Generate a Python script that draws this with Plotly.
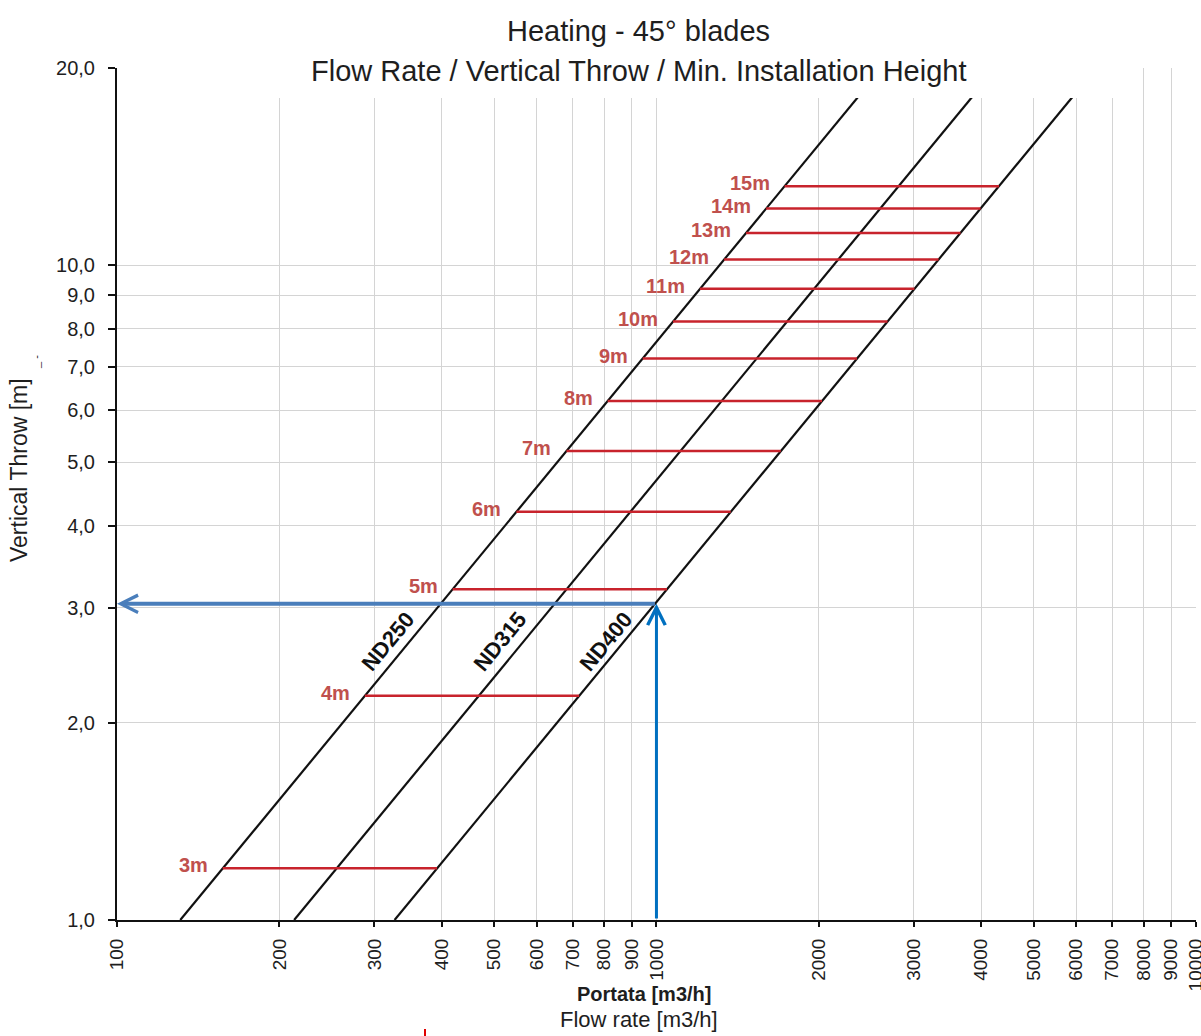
import math
import plotly.graph_objects as go

# ---------------- data ----------------
x_ticks = [100, 200, 300, 400, 500, 600, 700, 800, 900, 1000,
           2000, 3000, 4000, 5000, 6000, 7000, 8000, 9000, 10000]
x_tick_labels = ["100", "200", "300", "400", "500", "600", "700", "800", "900", "1000",
                 "2000", "3000", "4000", "5000", "6000", "7000", "8000", "9000", "10000"]
y_ticks = [1, 2, 3, 4, 5, 6, 7, 8, 9, 10, 20]
y_tick_labels = ["1,0", "2,0", "3,0", "4,0", "5,0", "6,0", "7,0", "8,0", "9,0", "10,0", "20,0"]

# diffuser lines (flow rate [m3/h] vs vertical throw [m])
nd_names = ["ND250", "ND315", "ND400"]
nd250_flow = [131, 2618]
nd250_throw = [1.0, 20.0]
nd315_flow = [213, 4260]
nd315_throw = [1.0, 20.0]
nd400_flow = [327, 6538]
nd400_throw = [1.0, 20.0]

# label positions of the ND lines
nd_label_flow = [318, 513, 807]
nd_label_throw = [2.66, 2.66, 2.66]

# min. installation height levels
height_labels = ["3m", "4m", "5m", "6m", "7m", "8m", "9m", "10m", "11m", "12m", "13m", "14m", "15m"]
height_throw = [1.2, 2.2, 3.2, 4.2, 5.2, 6.2, 7.2, 8.2, 9.2, 10.2, 11.2, 12.2, 13.2]
height_flow_start = [157, 288, 419, 550, 681, 812, 943, 1073, 1204, 1335, 1466, 1597, 1728]
height_flow_end = [392, 719, 1046, 1373, 1700, 2027, 2354, 2681, 3008, 3334, 3661, 3988, 4315]

# worked example (blue arrows)
example_flow = 1000
example_throw = 3.04

# ---------------- figure ----------------
W, H = 1201, 1036
L, R, T, B = 117, 5, 68, 116
PW, PH = W - L - R, H - T - B


def px_x(p):
    return (p - L) / PW


def px_y(p):
    return (H - B - p) / PH


AX_FONT = "Liberation Sans, Arial, sans-serif"
TXT = "#1e1e1e"
RED_LINE = "#C8232C"
RED_TEXT = "#C0504D"

fig = go.Figure()

for fx, fy in [(nd250_flow, nd250_throw), (nd315_flow, nd315_throw), (nd400_flow, nd400_throw)]:
    fig.add_trace(go.Scatter(x=fx, y=fy, mode="lines",
                             line=dict(color="#111111", width=2.2), hoverinfo="skip"))

rx, ry = [], []
for xs, xe, t in zip(height_flow_start, height_flow_end, height_throw):
    rx += [xs, xe, None]
    ry += [t, t, None]
fig.add_trace(go.Scatter(x=rx, y=ry, mode="lines",
                         line=dict(color=RED_LINE, width=2.5), hoverinfo="skip"))

annotations = []

# red height labels
for lab, xs, t in zip(height_labels, height_flow_start, height_throw):
    annotations.append(dict(x=math.log10(xs), y=math.log10(t), xref="x", yref="y",
                            text="<b>%s</b>" % lab, showarrow=False,
                            xanchor="right", yanchor="middle", xshift=-13, yshift=3,
                            font=dict(family=AX_FONT, size=20, color=RED_TEXT)))

# ND labels
for name, fx, fy in zip(nd_names, nd_label_flow, nd_label_throw):
    annotations.append(dict(x=math.log10(fx), y=math.log10(fy), xref="x", yref="y",
                            text="<b>%s</b>" % name, showarrow=False, textangle=-50.5,
                            xanchor="center", yanchor="middle",
                            font=dict(family=AX_FONT, size=22, color="#111111")))

# blue arrows
annotations.append(dict(x=math.log10(example_flow), y=math.log10(example_throw),
                        ax=math.log10(example_flow), ay=0,
                        xref="x", yref="y", axref="x", ayref="y", text="",
                        showarrow=True, arrowhead=5, arrowwidth=3, arrowsize=1.15,
                        arrowcolor="#0070C0"))
annotations.append(dict(x=2, y=math.log10(example_throw),
                        ax=math.log10(example_flow), ay=math.log10(example_throw),
                        xref="x", yref="y", axref="x", ayref="y", text="",
                        showarrow=True, arrowhead=5, arrowwidth=4, arrowsize=0.85,
                        arrowcolor="#4A7EBB"))

# titles
annotations.append(dict(x=px_x(638.5), y=px_y(31), xref="paper", yref="paper",
                        text="Heating - 45° blades", showarrow=False,
                        xanchor="center", yanchor="middle",
                        font=dict(family=AX_FONT, size=29, color=TXT)))
annotations.append(dict(x=px_x(638.5), y=px_y(70.5), xref="paper", yref="paper",
                        text="Flow Rate / Vertical Throw / Min. Installation Height",
                        showarrow=False, xanchor="center", yanchor="middle",
                        font=dict(family=AX_FONT, size=29, color=TXT)))
annotations.append(dict(x=px_x(644), y=px_y(994), xref="paper", yref="paper",
                        text="<b>Portata [m3/h]</b>", showarrow=False,
                        xanchor="center", yanchor="middle",
                        font=dict(family=AX_FONT, size=20, color=TXT)))
annotations.append(dict(x=px_x(639), y=px_y(1020), xref="paper", yref="paper",
                        text="Flow rate [m3/h]", showarrow=False,
                        xanchor="center", yanchor="middle",
                        font=dict(family=AX_FONT, size=22, color=TXT)))
annotations.append(dict(x=px_x(19), y=px_y(470), xref="paper", yref="paper",
                        text="Vertical Throw [m]", showarrow=False, textangle=-90,
                        xanchor="center", yanchor="middle",
                        font=dict(family=AX_FONT, size=23, color=TXT)))
annotations.append(dict(x=px_x(36), y=px_y(362), xref="paper", yref="paper",
                        text="_ -", showarrow=False, textangle=-90,
                        xanchor="center", yanchor="middle",
                        font=dict(family=AX_FONT, size=11, color=TXT)))

shapes = [
    # title box covering the top of the plot area
    dict(type="rect", xref="paper", yref="paper",
         x0=px_x(143), x1=px_x(1135), y0=px_y(98), y1=px_y(0),
         fillcolor="white", line=dict(width=0), layer="above"),
    # tiny red mark at the bottom
    dict(type="line", xref="paper", yref="paper",
         x0=px_x(425), x1=px_x(425), y0=px_y(1029), y1=px_y(1036),
         line=dict(color="#E00000", width=2)),
]

fig.update_layout(
    width=W, height=H, autosize=False,
    margin=dict(l=L, r=R, t=T, b=B, pad=0, autoexpand=False),
    paper_bgcolor="white", plot_bgcolor="white",
    showlegend=False,
    annotations=annotations,
    shapes=shapes,
)

fig.update_xaxes(type="log", range=[2, 4.0002], tickmode="array", automargin=False,
                 tickvals=x_ticks, ticktext=x_tick_labels, tickangle=-90,
                 ticks="outside", ticklen=5, tickwidth=2, tickcolor="#111111",
                 ticklabelstandoff=4, ticklabeloverflow="allow",
                 showline=True, linecolor="#111111", linewidth=2,
                 showgrid=True, gridcolor="#D4D4D4", gridwidth=1, zeroline=False,
                 tickfont=dict(family=AX_FONT, size=19, color=TXT))
fig.update_yaxes(type="log", range=[0, math.log10(20)], tickmode="array", automargin=False,
                 tickvals=y_ticks, ticktext=y_tick_labels,
                 ticks="outside", ticklen=7, tickwidth=2, tickcolor="#111111",
                 ticklabelstandoff=9,
                 showline=True, linecolor="#111111", linewidth=2,
                 showgrid=True, gridcolor="#D4D4D4", gridwidth=1, zeroline=False,
                 tickfont=dict(family=AX_FONT, size=20, color=TXT))

fig.write_html(
    "out.html",
    config={"displayModeBar": False},
    post_script="document.body.style.margin='0px';document.body.style.overflow='hidden';",
)
